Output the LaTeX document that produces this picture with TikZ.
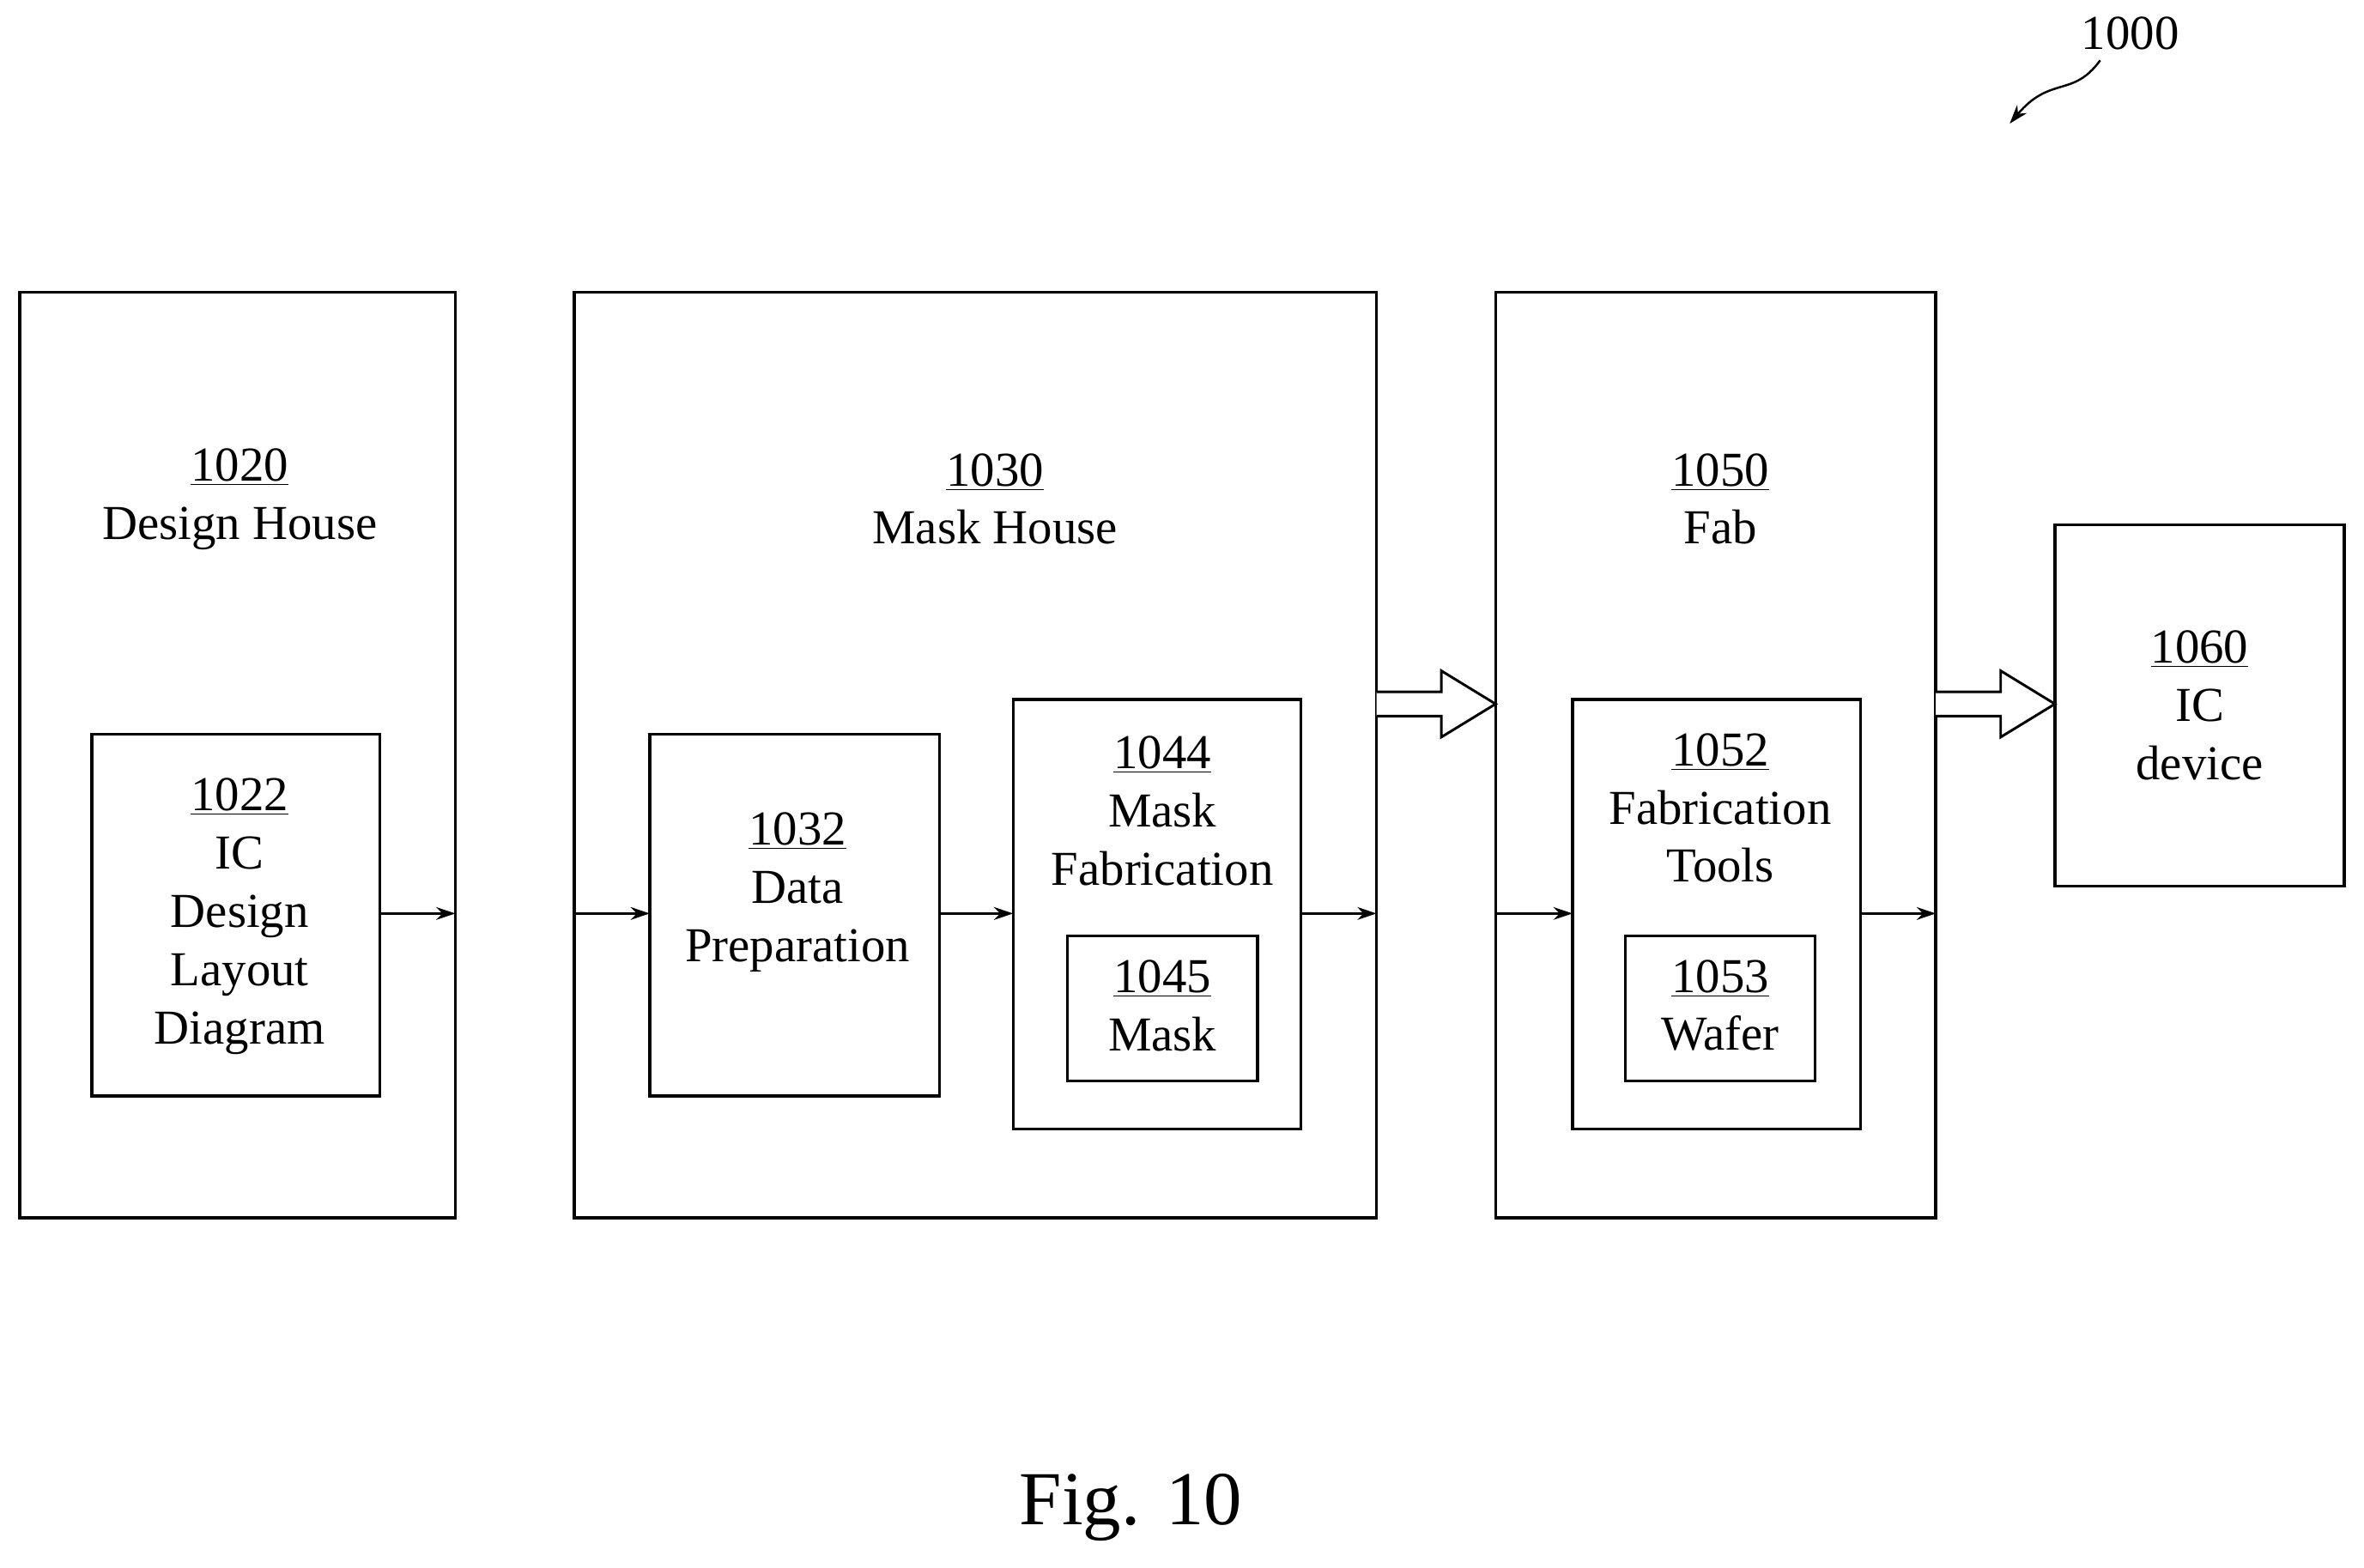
\documentclass[tikz,border=0pt]{standalone}
\usepackage{fontspec}
\setmainfont{Liberation Serif}
\usetikzlibrary{arrows.meta}
\begin{document}
\begin{tikzpicture}[x=0.025cm,y=-0.025cm,
  box/.style={draw,line width=1.4pt,inner sep=0pt},
  lbl/.style={align=center,font=\fontsize{23}{27.5}\selectfont,inner sep=0pt},
  arr/.style={line width=1.2pt,-{Stealth[length=9pt,width=6pt]}},
  dbl/.style={draw,line width=1.2pt,fill=white}]
\useasboundingbox (0,0) rectangle (1568,1040);
% outer boxes
\draw[box] (13,194) rectangle (302,808);
\draw[box] (381,194) rectangle (913,808);
\draw[box] (992,194) rectangle (1284,808);
\draw[box] (1363,348) rectangle (1555,588);
% inner boxes
\draw[box] (61,487) rectangle (252,727);
\draw[box] (431,487) rectangle (623,727);
\draw[box] (672,464) rectangle (863,749);
\draw[box] (708,621) rectangle (834,717);
\draw[box] (1043,464) rectangle (1234,749);
\draw[box] (1078,621) rectangle (1204,717);
% labels
\node[lbl] (t1020) at (159,331) {\underline{1020}\\Design House};
\node[lbl] (t1030) at (660,331) {\underline{1030}\\Mask House};
\node[lbl] (t1050) at (1141,331) {\underline{1050}\\Fab};
\node[lbl] (t1060) at (1459,468) {\underline{1060}\\IC\\device};
\node[lbl] (t1022) at (159,608) {\underline{1022}\\IC\\Design\\Layout\\Diagram};
\node[lbl] (t1032) at (529,592) {\underline{1032}\\Data\\Preparation};
\node[lbl] (t1044) at (771,538) {\underline{1044}\\Mask\\Fabrication};
\node[lbl] (t1045) at (771,667) {\underline{1045}\\Mask};
\node[lbl] (t1052) at (1141,536) {\underline{1052}\\Fabrication\\Tools};
\node[lbl] (t1053) at (1141,667) {\underline{1053}\\Wafer};
% small arrows
\coordinate (a1) at (252,606); \coordinate (a2) at (302,606);
\coordinate (b1) at (381,606); \coordinate (b2) at (431,606);
\coordinate (c1) at (623,606); \coordinate (c2) at (672,606);
\coordinate (d1) at (863,606); \coordinate (d2) at (913,606);
\coordinate (e1) at (992,606); \coordinate (e2) at (1043,606);
\coordinate (f1) at (1234,606); \coordinate (f2) at (1284,606);
\draw[arr] (a1)--(a2); \draw[arr] (b1)--(b2); \draw[arr] (c1)--(c2);
\draw[arr] (d1)--(d2); \draw[arr] (e1)--(e2); \draw[arr] (f1)--(f2);
% hollow arrows
\draw[dbl] (913,459)--(956,459)--(956,445)--(992,467)--(956,489)--(956,475)--(913,475);
\draw[dbl] (1284,459)--(1327,459)--(1327,445)--(1363,467)--(1327,489)--(1327,475)--(1284,475);
% reference label
\node[lbl] (t1000) at (1413,22) {1000};
\coordinate (r1) at (1393,40);
\coordinate (r2) at (1333,82);
\draw[line width=1pt,-{Stealth[length=9pt,width=6pt]}] (r1) .. controls (1375,65) and (1360,50) .. (r2);
\node[font=\fontsize{36}{40}\selectfont,inner sep=0pt] (fig) at (750,1000) {Fig. 10};
\end{tikzpicture}
\end{document}
